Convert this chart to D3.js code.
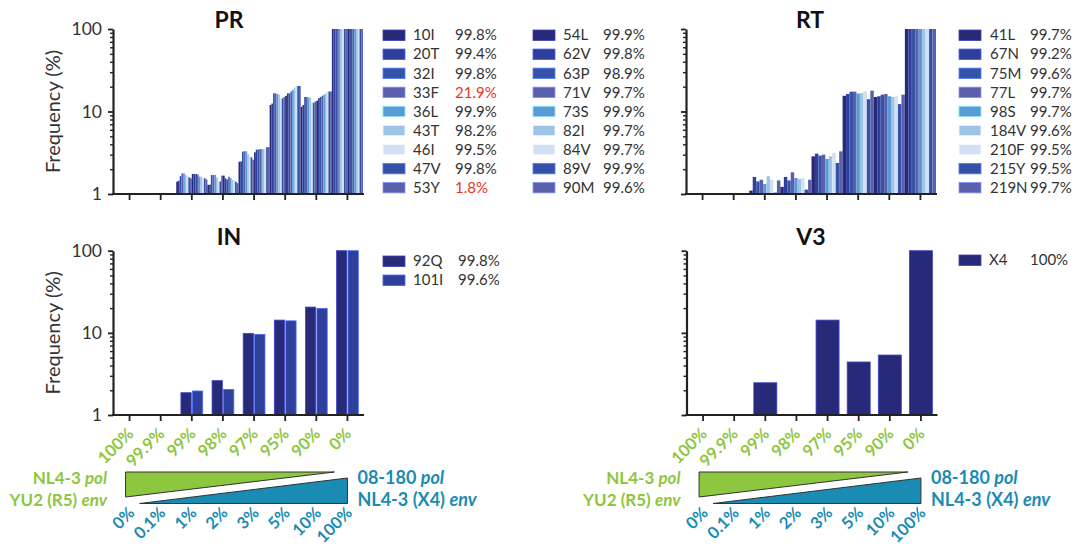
<!DOCTYPE html>
<html>
<head>
<meta charset="utf-8">
<script src="https://cdn.jsdelivr.net/npm/d3@7"></script>
<style>
  body { margin: 0; background: #fff; }
  svg { display: block; }
  text { font-family: Lato, "Open Sans", sans-serif; }
</style>
</head>
<body>
<svg id="chart" width="1086" height="546"></svg>
<script>
// Dilution series: share of NL4-3 pol / YU2 env in each mix
const dilutions = ["100%", "99.9%", "99%", "98%", "97%", "95%", "90%", "0%"];
// Matching share of 08-180 pol / NL4-3 (X4) env
const spikeShares = ["0%", "0.1%", "1%", "2%", "3%", "5%", "10%", "100%"];

// Protease mutations and their frequency in the pure 08-180 stock
const prMutations = ["10I", "20T", "32I", "33F", "36L", "43T", "46I", "47V", "53Y",
                     "54L", "62V", "63P", "71V", "73S", "82I", "84V", "89V", "90M"];
const prStock = ["99.8%", "99.4%", "99.8%", "21.9%", "99.9%", "98.2%", "99.5%", "99.8%", "1.8%",
                 "99.9%", "99.8%", "98.9%", "99.7%", "99.9%", "99.7%", "99.7%", "99.9%", "99.6%"];
// Detected frequency (%) per dilution, one value per mutation
const prFreq = [
  [0, 0, 0, 0, 0, 0, 0, 0, 0, 0, 0, 0, 0, 0, 0, 0, 0, 0],
  [0, 0, 0, 0, 0, 0, 0, 0, 0, 0, 0, 0, 0, 0, 0, 0, 0, 0],
  [1.41, 1.45, 1.65, 1.78, 1.78, 1.70, 1.68, 1.59, 1.55, 1.75, 1.75, 1.75, 1.72, 1.62, 1.62, 1.55, 1.55, 1.50],
  [1.29, 1.30, 1.70, 1.70, 1.70, 1.59, 1.41, 1.42, 1.67, 1.67, 1.55, 1.50, 1.62, 1.55, 1.48, 1.48, 1.41, 1.35],
  [2.46, 2.48, 3.26, 3.30, 3.30, 3.05, 2.90, 2.78, 2.60, 3.20, 3.45, 3.45, 3.50, 3.50, 3.50, 3.60, 3.70, 3.70],
  [12.0, 12.5, 16.6, 16.6, 16.3, 16.0, 14.4, 14.4, 15.0, 15.5, 16.6, 16.6, 17.5, 18.3, 19.5, 20.4, 20.4, 20.4],
  [11.4, 12.0, 15.0, 15.0, 14.8, 14.8, 12.8, 12.8, 13.2, 13.5, 14.5, 15.0, 15.5, 16.0, 16.6, 17.5, 17.5, 17.5],
  [100, 100, 100, 100, 100, 100, 100, 100, 100, 100, 100, 100, 100, 100, 100, 100, 100, 100]
];

// Reverse transcriptase mutations
const rtMutations = ["41L", "67N", "75M", "77L", "98S", "184V", "210F", "215Y", "219N"];
const rtStock = ["99.7%", "99.2%", "99.6%", "99.7%", "99.7%", "99.6%", "99.5%", "99.5%", "99.7%"];
const rtFreq = [
  [0, 0, 0, 0, 0, 0, 0, 0, 0],
  [0, 0, 0, 0, 0, 0, 0, 0, 0],
  [1.10, 1.61, 1.42, 1.49, 1.32, 1.64, 1.49, 1.04, 1.46],
  [1.22, 1.61, 1.46, 1.83, 1.56, 1.52, 1.56, 1.13, 1.49],
  [2.86, 3.08, 2.92, 3.00, 2.66, 2.86, 3.14, 2.38, 3.29],
  [15.5, 16.3, 17.4, 17.4, 16.5, 16.7, 17.6, 14.1, 17.9],
  [15.0, 15.3, 16.0, 16.3, 15.3, 15.0, 15.3, 12.3, 16.0],
  [100, 100, 100, 100, 100, 100, 100, 100, 100]
];

// Integrase mutations
const inMutations = ["92Q", "101I"];
const inStock = ["99.8%", "99.6%"];
const inFreq = [[0, 0], [0, 0], [1.87, 1.96], [2.62, 2.05], [9.86, 9.58], [14.3, 14.0], [20.6, 19.8], [100, 100]];

// V3 loop tropism call
const v3Variants = ["X4"];
const v3Stock = ["100%"];
const v3Freq = [[0], [0], [2.47], [0], [14.3], [4.42], [5.37], [100]];

// Shades cycled through the mutations of a panel
const shades = ["#272a78", "#2e3f9c", "#3753a7", "#5b60ac", "#5b9bd5", "#9dc3e6", "#d0e1f4", "#3551a7", "#5b60ac"];
const INK = "#222";
const TEXT = "#333";
const GREEN = "#8dc63f";
const TEAL = "#1a8bb3";
const RED = "#ee3124";

const svg = d3.select("#chart");
const majors = [1, 10, 100];
const yTicks = [1, 2, 3, 4, 5, 6, 7, 8, 9, 10, 20, 30, 40, 50, 60, 70, 80, 90, 100];

function drawPanel(p) {
  const g = svg.append("g");
  const x = d3.scaleBand().domain(dilutions).range([p.x0 + 1, p.x0 + 250]).paddingInner(p.groupPad).paddingOuter(p.groupPad / 2);
  const y = d3.scaleLog().domain([1, 100]).range([p.yBottom, p.yTop]);
  const sub = d3.scaleBand().domain(d3.range(p.names.length)).range([0, x.bandwidth()]).paddingInner(p.barPad);

  // bars
  const groups = g.append("g").selectAll("g")
    .data(p.freq.map((vals, i) => ({ key: dilutions[i], vals })))
    .join("g")
    .attr("transform", d => `translate(${x(d.key)},0)`);
  groups.selectAll("rect")
    .data(d => d.vals.map((v, j) => ({ v, j })).filter(e => e.v > 1))
    .join("rect")
    .attr("x", d => sub(d.j))
    .attr("width", sub.bandwidth())
    .attr("y", d => y(d.v))
    .attr("height", d => p.yBottom - y(d.v))
    .attr("fill", d => p.colors[d.j % p.colors.length])
    .attr("stroke", p.outline ? d => d3.color(p.colors[d.j % p.colors.length]).brighter(1.4) : "none")
    .attr("stroke-width", 0.8);

  // y axis (log)
  const ya = g.append("g").attr("transform", `translate(${p.x0},0)`)
    .call(d3.axisLeft(y).tickValues(yTicks).tickSize(6).tickSizeOuter(0).tickPadding(5)
      .tickFormat(d => (p.yLabels && majors.includes(d)) ? d : ""));
  ya.select(".domain").attr("stroke", INK).attr("stroke-width", 2.2);
  ya.selectAll(".tick line").attr("stroke", INK).attr("stroke-width", d => majors.includes(d) ? 1.8 : 1.4)
    .attr("x2", d => majors.includes(d) ? -5 : -3);
  ya.selectAll(".tick text").attr("fill", TEXT).style("font-size", "17.5px").style("font-family", "Lato, sans-serif");

  // x axis
  const xa = g.append("g").attr("transform", `translate(0,${p.yBottom})`)
    .call(d3.axisBottom(x).tickSize(6).tickSizeOuter(0).tickFormat(""));
  xa.select(".domain").remove();
  xa.append("line").attr("x1", p.x0 - 1.1).attr("x2", p.x0 + 251).attr("stroke", INK).attr("stroke-width", 2.2);
  xa.selectAll(".tick line").attr("stroke", INK).attr("stroke-width", 1.8);

  // title
  g.append("text").attr("x", p.titleX).attr("y", p.titleY).attr("text-anchor", "middle")
    .style("font-size", "23px").style("font-weight", 700).attr("fill", "#111").text(p.title);

  // y axis title
  if (p.yLabels) {
    g.append("text")
      .attr("transform", `translate(${p.x0 - 53},${(p.yTop + p.yBottom) / 2}) rotate(-90)`)
      .attr("text-anchor", "middle").style("font-size", "20px").attr("fill", TEXT)
      .text("Frequency (%)");
  }

  // legend
  p.legendCols.forEach(col => {
    const rows = g.append("g").selectAll("g")
      .data(d3.range(col.from, col.to))
      .join("g")
      .attr("transform", (d, i) => `translate(0,${p.legendY + i * 19.05})`);
    rows.append("rect").attr("x", col.sw).attr("y", -5).attr("width", 22).attr("height", 10.5)
      .attr("fill", d => p.colors[d % p.colors.length])
      .attr("stroke", d => d3.color(p.colors[d % p.colors.length]).brighter(1.2)).attr("stroke-width", 0.8);
    rows.append("text").attr("x", col.name).attr("dy", "0.36em").style("font-size", "15px")
      .attr("fill", TEXT).text(d => p.names[d]);
    rows.append("text").attr("x", col.pct).attr("dy", "0.36em").style("font-size", "15px")
      .attr("fill", d => parseFloat(p.stock[d]) < 50 ? RED : TEXT).text(d => p.stock[d]);
  });

  if (p.mixes) drawMixes(x, p);
}

function drawMixes(x, p) {
  const g = svg.append("g");
  const cx = d => x(d) + x.bandwidth() / 2;
  const first = cx(dilutions[0]);
  const last = cx(dilutions[dilutions.length - 1]);

  // dilution labels above the wedges
  g.append("g").selectAll("text").data(dilutions).join("text")
    .attr("transform", d => `translate(${cx(d) + 5},${435}) rotate(-45)`)
    .attr("text-anchor", "end").style("font-size", "16.5px").style("font-weight", 700)
    .attr("fill", GREEN).text(d => d);

  // wedges
  g.append("path")
    .attr("d", `M${first - 4},472 L${last - 13},472 L${first - 4},497 Z`)
    .attr("fill", GREEN).attr("stroke", "#333").attr("stroke-width", 1);
  g.append("path")
    .attr("d", `M${first + 10},503.5 L${last},478 L${last},503.5 Z`)
    .attr("fill", TEAL).attr("stroke", "#333").attr("stroke-width", 1);

  // strain names
  const left = g.append("text").attr("x", p.x0 - 6).attr("y", 484).attr("text-anchor", "end")
    .style("font-size", "17px").style("font-weight", 700).attr("fill", GREEN);
  left.append("tspan").text("NL4-3 ");
  left.append("tspan").style("font-style", "italic").text("pol");
  const left2 = g.append("text").attr("x", p.x0 - 6).attr("y", 505.5).attr("text-anchor", "end")
    .style("font-size", "17px").style("font-weight", 700).attr("fill", GREEN);
  left2.append("tspan").text("YU2 (R5) ");
  left2.append("tspan").style("font-style", "italic").text("env");

  const right = g.append("text").attr("x", last + 10).attr("y", 484)
    .style("font-size", "18px").style("font-weight", 700).attr("fill", TEAL);
  right.append("tspan").text("08-180 ");
  right.append("tspan").style("font-style", "italic").text("pol");
  const right2 = g.append("text").attr("x", last + 10).attr("y", 505.5)
    .style("font-size", "18px").style("font-weight", 700).attr("fill", TEAL);
  right2.append("tspan").text("NL4-3 (X4) ");
  right2.append("tspan").style("font-style", "italic").text("env");

  // spike-in shares below the wedges
  g.append("g").selectAll("text").data(spikeShares).join("text")
    .attr("transform", (d, i) => `translate(${cx(dilutions[i]) + 6},${514}) rotate(-45)`)
    .attr("text-anchor", "end").style("font-size", "16.5px").style("font-weight", 700)
    .attr("fill", TEAL).text(d => d);
}

drawPanel({
  title: "PR", titleX: 229, titleY: 28, x0: 113, yTop: 29, yBottom: 194, yLabels: true,
  names: prMutations, stock: prStock, freq: prFreq, colors: shades,
  groupPad: 0, barPad: 0, outline: false,
  legendY: 35, legendCols: [{ from: 0, to: 9, sw: 383, name: 413, pct: 455 }, { from: 9, to: 18, sw: 533, name: 563, pct: 603 }]
});
drawPanel({
  title: "RT", titleX: 810, titleY: 28, x0: 686, yTop: 29, yBottom: 194, yLabels: false,
  names: rtMutations, stock: rtStock, freq: rtFreq, colors: shades,
  groupPad: 0, barPad: 0, outline: false,
  legendY: 35, legendCols: [{ from: 0, to: 9, sw: 959, name: 990, pct: 1030 }]
});
drawPanel({
  title: "IN", titleX: 229, titleY: 245, x0: 113, yTop: 250.7, yBottom: 415, yLabels: true,
  names: inMutations, stock: inStock, freq: inFreq, colors: shades,
  groupPad: 0.3, barPad: 0.1, outline: true, mixes: true,
  legendY: 261, legendCols: [{ from: 0, to: 2, sw: 383, name: 413, pct: 458 }]
});
drawPanel({
  title: "V3", titleX: 811, titleY: 245, x0: 686.5, yTop: 250.7, yBottom: 415, yLabels: false,
  names: v3Variants, stock: v3Stock, freq: v3Freq, colors: shades,
  groupPad: 0.26, barPad: 0, outline: true, mixes: true,
  legendY: 260, legendCols: [{ from: 0, to: 1, sw: 959, name: 989, pct: 1030 }]
});
</script>
</body>
</html>
